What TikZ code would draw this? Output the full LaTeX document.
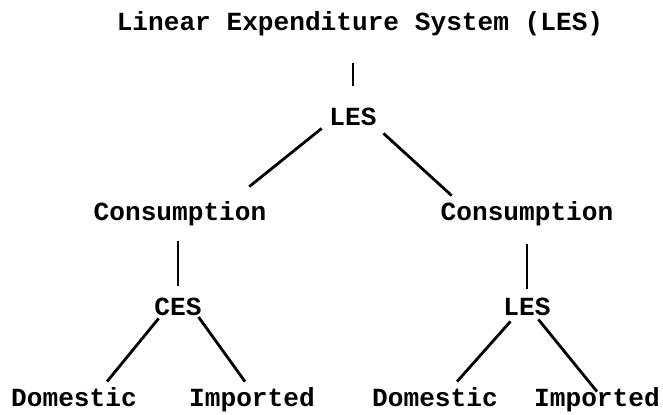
\documentclass[tikz,border=0pt]{standalone}
\usepackage{fontspec}
\setmainfont{Liberation Mono}
\usetikzlibrary{positioning}

\begin{document}
\begin{tikzpicture}[node distance=2.375cm,on grid,line width=2pt,
		every node/.style={font=\fontsize{18.6}{22}\selectfont\bfseries,inner sep=0pt,text height=0.43cm,text depth=0pt}]
			\useasboundingbox (0,0) rectangle (16.575,-10.35);
			\node (top) at (9.0,-0.55)						{Linear Expenditure System (LES)};
			\node (les) [below left=2.375cm and 0.175cm of top]	{LES};
			\node (consL) [below left=2.375cm and 4.325cm of les]	{Consumption};
			\node (consR) [below right=2.375cm and 4.35cm of les]	{Consumption};
			\node (ces) [below left=2.375cm and 0.05cm of consL]	{CES};
			\node (lesR) [below=of consR]					{LES};
			\node (domL) [below left=2.275cm and 2.6cm of ces]		{Domestic};
			\node (impL) [below right=2.275cm and 1.85cm of ces]	{Imported};
			\node (domR) [below left=2.275cm and 2.3cm of lesR]	{Domestic};
			\node (impR) [below right=2.275cm and 1.75cm of lesR]	{Imported};
			\path	(les.north) edge [shorten <=0.525cm,shorten >=0.78cm]	(les.north |- top.south)
					([xshift=-0.16cm,yshift=-0.035cm]les.south west) edge ([xshift=-0.46cm,yshift=0.385cm]consL.north east)
					([xshift=0.14cm,yshift=-0.16cm]les.south east) edge ([xshift=0.31cm,yshift=0.16cm]consR.north west)
					(ces.north |- consL.south) edge [shorten <=0.485cm,shorten >=0.285cm]	(ces.north)
					(consR.south) edge [shorten <=0.56cm,shorten >=0.21cm]	(lesR.north)
					([xshift=0.14cm,yshift=-0.035cm]ces.south west) edge ([xshift=0.825cm,yshift=0.16cm]domL.north)
					([xshift=-0.11cm]ces.south east) edge ([xshift=-0.175cm,yshift=0.16cm]impL.north)
					([xshift=0.21cm,yshift=-0.11cm]lesR.south west) edge ([xshift=0.55cm,yshift=0.16cm]domR.north)
					([xshift=-0.34cm,yshift=-0.06cm]lesR.south east) edge ([yshift=-0.09cm]impR.north)
					;
\end{tikzpicture}
\end{document}
